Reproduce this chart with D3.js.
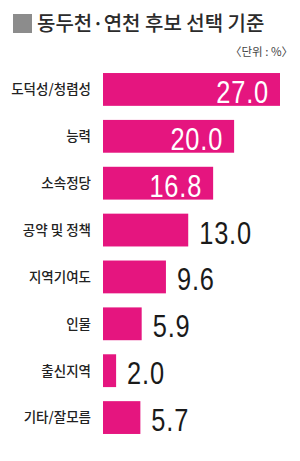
<!DOCTYPE html>
<html>
<head>
<meta charset="utf-8">
<script src="https://cdn.jsdelivr.net/npm/d3@7"></script>
<style>
  body { margin: 0; background: #fff; }
  svg { display: block; }
</style>
</head>
<body>
<div id="chart"></div>
<script>
// data
const categories = ["도덕성/청렴성", "능력", "소속정당", "공약 및 정책", "지역기여도", "인물", "출신지역", "기타/잘모름"];
const values = [27.0, 20.0, 16.8, 13.0, 9.6, 5.9, 2.0, 5.7];
const titleText = "동두천·연천 후보 선택 기준";
const unitText = "〈단위 : %〉";

const width = 300, height = 461;
const barColor = "#e5157f";

let svg = d3.select("#chart")
    .append("svg")
    .attr("width", width)
    .attr("height", height);

// title with grey square
svg.append("rect")
    .attr("x", 13).attr("y", 14)
    .attr("width", 19).attr("height", 19)
    .attr("fill", "#8c8c8c");

svg.append("text")
    .attr("x", 37).attr("y", 31)
    .style("font-family", "'Noto Sans CJK KR', sans-serif")
    .style("font-size", "20px")
    .style("font-weight", 500)
    .attr("fill", "#2b2b2b")
    .text(titleText);

svg.append("text")
    .attr("x", 293).attr("y", 56)
    .attr("text-anchor", "end")
    .style("font-family", "'Noto Sans CJK KR', sans-serif")
    .style("font-size", "11.5px")
    .attr("fill", "#444")
    .text(unitText);

// scales
let x = d3.scaleLinear().domain([0, 27]).range([103, 280]);
let y = d3.scaleBand().domain(categories).range([66, 441])
    .paddingInner(0.3).paddingOuter(0.15);

const rows = categories.map((c, i) => ({ cat: c, val: values[i] }));

// bars
svg.selectAll("rect.bar")
    .data(rows)
    .enter()
    .append("rect")
    .attr("class", "bar")
    .attr("x", x(0))
    .attr("y", d => y(d.cat))
    .attr("width", d => x(d.val) - x(0))
    .attr("height", y.bandwidth())
    .attr("fill", barColor);

// category labels
svg.selectAll("text.cat")
    .data(rows)
    .enter()
    .append("text")
    .attr("class", "cat")
    .attr("x", 91)
    .attr("y", d => y(d.cat) + y.bandwidth() / 2)
    .attr("dy", "0.36em")
    .attr("text-anchor", "end")
    .style("font-family", "'Noto Sans CJK KR', sans-serif")
    .style("font-size", "13.5px")
    .style("font-weight", 500)
    .attr("fill", "#222")
    .text(d => d.cat);

// value labels (narrowed sans)
svg.selectAll("text.val")
    .data(rows)
    .enter()
    .append("text")
    .attr("class", "val")
    .attr("transform", d => {
        let inside = d.val > 15;
        let tx = inside ? x(d.val) - 11 : x(d.val) + 11;
        let ty = y(d.cat) + y.bandwidth() / 2 + 13.5;
        return "translate(" + tx + "," + ty + ") scale(0.82,1)";
    })
    .attr("text-anchor", d => d.val > 15 ? "end" : "start")
    .style("font-family", "'Liberation Sans', Arial, sans-serif")
    .style("font-size", "31px")
    .style("letter-spacing", "1px")
    .attr("fill", d => d.val > 15 ? "#fff" : "#1a1a1a")
    .text(d => d.val.toFixed(1));
</script>
</body>
</html>
